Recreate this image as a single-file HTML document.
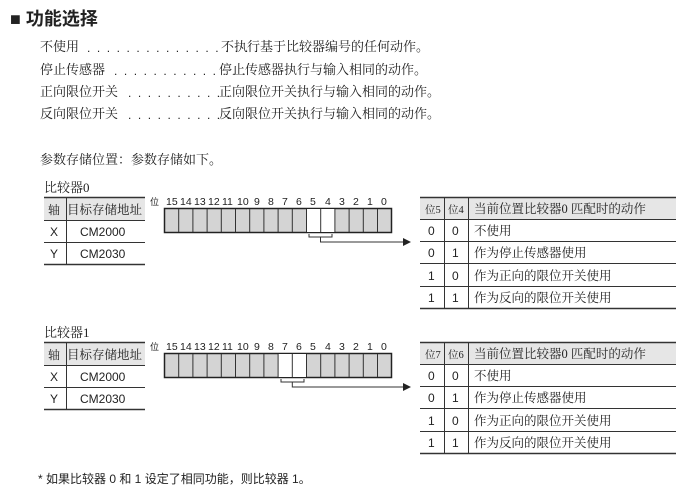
<!DOCTYPE html>
<html><head><meta charset="utf-8"><style>
body{margin:0;width:690px;height:504px;background:#fff;position:relative;overflow:hidden;font-family:"Liberation Sans","Noto Sans CJK SC",sans-serif;color:#222}
.t{position:absolute;white-space:nowrap;font-size:13px;font-family:"Liberation Serif","Noto Serif CJK SC",serif}
.d{position:absolute;white-space:nowrap;font-size:12px;letter-spacing:1.6px;line-height:12px}
.s{position:absolute;white-space:nowrap;font-size:12px}
</style></head><body>
<div class="s" style="left:10px;top:5px;font-size:18px;font-weight:bold">■ 功能选择</div>
<div class="t" style="left:40px;top:36px">不使用</div><div class="d" style="left:87px;top:42px">. . . . . . . . . . . . . . . . . .</div><div class="t" style="left:221px;top:36px">不执行基于比较器编号的任何动作。</div>
<div class="t" style="left:40px;top:59px">停止传感器</div><div class="d" style="left:114px;top:65px">. . . . . . . . . . . . . .</div><div class="t" style="left:219px;top:59px">停止传感器执行与输入相同的动作。</div>
<div class="t" style="left:40px;top:81px">正向限位开关</div><div class="d" style="left:128px;top:87px">. . . . . . . . . . . .</div><div class="t" style="left:219px;top:81px">正向限位开关执行与输入相同的动作。</div>
<div class="t" style="left:40px;top:103px">反向限位开关</div><div class="d" style="left:128px;top:109px">. . . . . . . . . . . .</div><div class="t" style="left:219px;top:103px">反向限位开关执行与输入相同的动作。</div>
<div class="t" style="left:40px;top:149px">参数存储位置：参数存储如下。</div>
<div class="t" style="left:44px;top:177px">比较器0</div>
<div class="t" style="left:44px;top:322px">比较器1</div>
<div class="s" style="left:38px;top:470px">* 如果比较器 0 和 1 设定了相同功能，则比较器 1。</div>

<svg width="690" height="504" style="position:absolute;left:0;top:0" font-family="Liberation Sans, Noto Sans CJK SC, sans-serif" font-size="12" fill="#222">
<defs><marker id="a" markerWidth="8" markerHeight="8" refX="7" refY="4" orient="auto"><path d="M0,0 L8,4 L0,8 Z" fill="#222"/></marker></defs>
<g>
<rect x="44" y="198" width="101" height="22" fill="#e6e6e6"/>
<g stroke="#333" stroke-width="1">
<line x1="44" y1="197.5" x2="145" y2="197.5" stroke-width="1.5"/>
<line x1="44" y1="220.5" x2="145" y2="220.5"/>
<line x1="44" y1="242.5" x2="145" y2="242.5"/>
<line x1="44" y1="264.5" x2="145" y2="264.5" stroke-width="1.5"/>
<line x1="66.5" y1="198" x2="66.5" y2="264"/>
</g>
<text x="48" y="214" font-family="Liberation Serif, Noto Serif CJK SC, serif">轴</text><text x="67" y="214" font-size="12.5" font-family="Liberation Serif, Noto Serif CJK SC, serif">目标存储地址</text>
<text x="50" y="236">X</text><text x="80" y="236">CM2000</text>
<text x="50" y="258">Y</text><text x="80" y="258">CM2030</text>
<text x="150" y="205" font-size="9">位</text>
<text y="205" font-size="10.5"><tspan x="166">15</tspan><tspan x="180">14</tspan><tspan x="194">13</tspan><tspan x="208">12</tspan><tspan x="222">11</tspan><tspan x="237">10</tspan><tspan x="254">9</tspan><tspan x="268">8</tspan><tspan x="282">7</tspan><tspan x="296">6</tspan><tspan x="310">5</tspan><tspan x="325">4</tspan><tspan x="339">3</tspan><tspan x="353">2</tspan><tspan x="367">1</tspan><tspan x="381">0</tspan></text>
<rect x="164.5" y="208.5" width="227" height="24" fill="#d4d4d4" stroke="#222" stroke-width="1.5"/>
<rect x="306.5" y="209" width="28" height="23" fill="#fff"/>
<path d="M178.7,209V232M192.9,209V232M207.1,209V232M221.3,209V232M235.5,209V232M249.7,209V232M263.9,209V232M278.1,209V232M292.3,209V232M306.5,209V232M320.7,209V232M334.9,209V232M349.1,209V232M363.3,209V232M377.5,209V232" stroke="#333"/>
<path d="M309,234V237H332V234M320.5,237V242H410" fill="none" stroke="#333" marker-end="url(#a)"/>
<rect x="420" y="198" width="256" height="21" fill="#e6e6e6"/>
<g stroke="#333">
<line x1="420" y1="197.5" x2="676" y2="197.5" stroke-width="1.5"/>
<line x1="420" y1="219.5" x2="676" y2="219.5"/>
<line x1="420" y1="241.5" x2="676" y2="241.5"/>
<line x1="420" y1="263.5" x2="676" y2="263.5"/>
<line x1="420" y1="286.5" x2="676" y2="286.5"/>
<line x1="420" y1="308.5" x2="676" y2="308.5" stroke-width="1.5"/>
<line x1="444.5" y1="198" x2="444.5" y2="308"/>
<line x1="468.5" y1="198" x2="468.5" y2="308"/>
</g>
<g font-family="Liberation Serif, Noto Serif CJK SC, serif" font-size="12.5">
<text><tspan x="425" y="213" font-size="10.5">位5</tspan><tspan x="448" y="213" font-size="10.5">位4</tspan><tspan x="474" y="213">当前位置比较器0 匹配时的动作</tspan></text>
<text x="474" y="235">不使用</text>
<text x="474" y="257">作为停止传感器使用</text>
<text x="474" y="280">作为正向的限位开关使用</text>
<text x="474" y="302">作为反向的限位开关使用</text>
</g>
<text x="428" y="235">0</text><text x="452" y="235">0</text>
<text x="428" y="257">0</text><text x="452" y="257">1</text>
<text x="428" y="280">1</text><text x="452" y="280">0</text>
<text x="428" y="302">1</text><text x="452" y="302">1</text>
</g>
<g transform="translate(0,145)">
<rect x="44" y="198" width="101" height="22" fill="#e6e6e6"/>
<g stroke="#333" stroke-width="1">
<line x1="44" y1="197.5" x2="145" y2="197.5" stroke-width="1.5"/>
<line x1="44" y1="220.5" x2="145" y2="220.5"/>
<line x1="44" y1="242.5" x2="145" y2="242.5"/>
<line x1="44" y1="264.5" x2="145" y2="264.5" stroke-width="1.5"/>
<line x1="66.5" y1="198" x2="66.5" y2="264"/>
</g>
<text x="48" y="214" font-family="Liberation Serif, Noto Serif CJK SC, serif">轴</text><text x="67" y="214" font-size="12.5" font-family="Liberation Serif, Noto Serif CJK SC, serif">目标存储地址</text>
<text x="50" y="236">X</text><text x="80" y="236">CM2000</text>
<text x="50" y="258">Y</text><text x="80" y="258">CM2030</text>
<text x="150" y="205" font-size="9">位</text>
<text y="205" font-size="10.5"><tspan x="166">15</tspan><tspan x="180">14</tspan><tspan x="194">13</tspan><tspan x="208">12</tspan><tspan x="222">11</tspan><tspan x="237">10</tspan><tspan x="254">9</tspan><tspan x="268">8</tspan><tspan x="282">7</tspan><tspan x="296">6</tspan><tspan x="310">5</tspan><tspan x="325">4</tspan><tspan x="339">3</tspan><tspan x="353">2</tspan><tspan x="367">1</tspan><tspan x="381">0</tspan></text>
<rect x="164.5" y="208.5" width="227" height="24" fill="#d4d4d4" stroke="#222" stroke-width="1.5"/>
<rect x="278.1" y="209" width="28.4" height="23" fill="#fff"/>
<path d="M178.7,209V232M192.9,209V232M207.1,209V232M221.3,209V232M235.5,209V232M249.7,209V232M263.9,209V232M278.1,209V232M292.3,209V232M306.5,209V232M320.7,209V232M334.9,209V232M349.1,209V232M363.3,209V232M377.5,209V232" stroke="#333"/>
<path d="M281,234V237H304V234M292.3,237V242H410" fill="none" stroke="#333" marker-end="url(#a)"/>
<rect x="420" y="198" width="256" height="21" fill="#e6e6e6"/>
<g stroke="#333">
<line x1="420" y1="197.5" x2="676" y2="197.5" stroke-width="1.5"/>
<line x1="420" y1="219.5" x2="676" y2="219.5"/>
<line x1="420" y1="241.5" x2="676" y2="241.5"/>
<line x1="420" y1="263.5" x2="676" y2="263.5"/>
<line x1="420" y1="286.5" x2="676" y2="286.5"/>
<line x1="420" y1="308.5" x2="676" y2="308.5" stroke-width="1.5"/>
<line x1="444.5" y1="198" x2="444.5" y2="308"/>
<line x1="468.5" y1="198" x2="468.5" y2="308"/>
</g>
<g font-family="Liberation Serif, Noto Serif CJK SC, serif" font-size="12.5">
<text><tspan x="425" y="213" font-size="10.5">位7</tspan><tspan x="448" y="213" font-size="10.5">位6</tspan><tspan x="474" y="213">当前位置比较器0 匹配时的动作</tspan></text>
<text x="474" y="235">不使用</text>
<text x="474" y="257">作为停止传感器使用</text>
<text x="474" y="280">作为正向的限位开关使用</text>
<text x="474" y="302">作为反向的限位开关使用</text>
</g>
<text x="428" y="235">0</text><text x="452" y="235">0</text>
<text x="428" y="257">0</text><text x="452" y="257">1</text>
<text x="428" y="280">1</text><text x="452" y="280">0</text>
<text x="428" y="302">1</text><text x="452" y="302">1</text>
</g>
</svg>
</body></html>
